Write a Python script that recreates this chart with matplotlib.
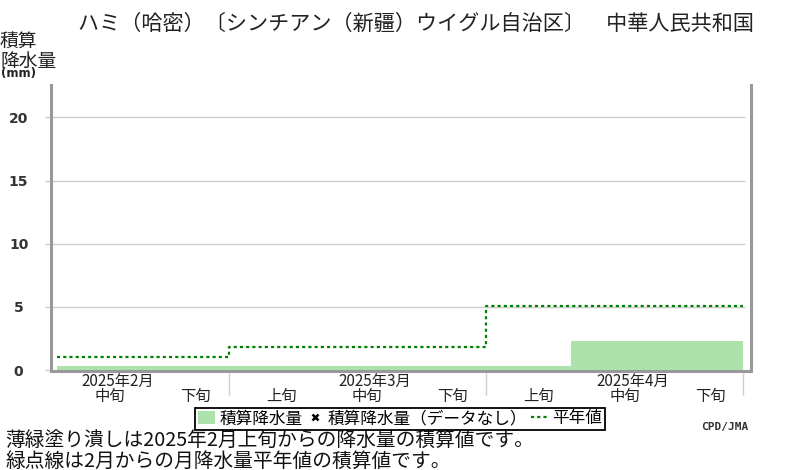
import matplotlib
matplotlib.use("Agg")
import matplotlib.pyplot as plt
from matplotlib.patches import Patch
from matplotlib.lines import Line2D

plt.rcParams['font.family'] = ['Noto Sans CJK JP', 'DejaVu Sans']

# ---- data ----
title = "ハミ（哈密）〔シンチアン（新疆）ウイグル自治区〕　中華人民共和国"
dekad_labels = ['中旬', '下旬', '上旬', '中旬', '下旬', '上旬', '中旬', '下旬']
month_labels = ['2025年2月', '2025年3月', '2025年4月']
month_label_idx = [0, 3, 6]          # dekad index under which the month label sits
month_bounds = [0, 2, 5, 8]          # dekad boundaries of the months
precip_cum = [0.3, 0.3, 0.3, 0.3, 0.3, 0.3, 2.3, 2.3]   # cumulative precipitation (mm)
normal_cum = [1.0, 1.85, 5.1]        # cumulative monthly normal (mm)
yticks = [0, 5, 10, 15, 20]

W, H = 800, 470
fig = plt.figure(figsize=(W / 100, H / 100), dpi=100)

ax_l, ax_r, ax_b, ax_t = 51, 750.5, 371, 85
ax = fig.add_axes([ax_l / W, 1 - ax_b / H, (ax_r - ax_l) / W, (ax_b - ax_t) / H])

px_per_dekad = 85.7
px_per_mm = 12.63
ax.set_xlim(-6 / px_per_dekad, 8 + 7.5 / px_per_dekad)
ax.set_ylim(-1 / px_per_mm, (370 - ax_t) / px_per_mm)

# bars
ax.bar(range(len(precip_cum)), precip_cum, width=1.0, align='edge',
       color='#ade3ab', linewidth=0, zorder=2)

# normal step line
xs, ys = [], []
for i, v in enumerate(normal_cum):
    xs += [month_bounds[i], month_bounds[i + 1]]
    ys += [v, v]
ax.plot(xs, ys, color='#008000', lw=1.6, linestyle=(0, (1.4, 1.4)), zorder=3)

# grid lines
for t in yticks[1:]:
    ax.hlines(t, ax.get_xlim()[0], 8 + 2 / px_per_dekad, color='#cccccc', lw=1, zorder=1)

# spines
for s in ['left', 'right', 'bottom']:
    ax.spines[s].set_color('#999999')
    ax.spines[s].set_linewidth(2.2)
    ax.spines[s].set_zorder(4)
ax.spines['top'].set_visible(False)

ax.set_yticks(yticks)
ax.set_yticklabels([str(t) for t in yticks])
ax.tick_params(axis='y', length=4.3, width=1, color='#cccccc', pad=19,
               labelsize=10, labelcolor='#333333')
for lab in ax.get_yticklabels():
    lab.set_ha('center')
    lab.set_fontweight('bold')
    lab.set_family('DejaVu Sans')
ax.set_xticks([])

# month separators below axis
ax.vlines(month_bounds[1:], -24 / (ax_b - ax_t), -2 / (ax_b - ax_t),
          transform=ax.get_xaxis_transform(), color='#cccccc', lw=1, clip_on=False)

# dekad labels
for i, lab in enumerate(dekad_labels):
    ax.annotate(lab, xy=(i + 0.5, 0), xycoords=('data', 'axes fraction'),
                xytext=(7.2, -18.5), textcoords='offset points',
                ha='center', va='center', fontsize=11, color='#222222')
for idx, lab in zip(month_label_idx, month_labels):
    ax.annotate(lab, xy=(idx + 0.5, 0), xycoords=('data', 'axes fraction'),
                xytext=(13, -7.5), textcoords='offset points',
                ha='center', va='center', fontsize=11, color='#222222')

# title
fig.text(416 / W, 1 - 24 / H, title, ha='center', va='center', fontsize=15.2, color='#222222')

# y label
fig.text(0 / W, 1 - 31 / H, "積算\n降水量", ha='left', va='top', fontsize=13.5,
         linespacing=0.95, color='#222222')
fig.text(1 / W, 1 - 74 / H, "(mm)", ha='left', va='center', fontsize=8.5,
         fontweight='bold', color='#222222', family='DejaVu Sans')

# legend
handles = [
    Patch(facecolor='#ade3ab', edgecolor='none'),
    Line2D([], [], marker='x', color='black', linestyle='none', markersize=4.5, mew=1.8),
    Line2D([], [], color='#008000', lw=1.6, linestyle=(0, (1.4, 1.4))),
]
labels = ['積算降水量', '積算降水量（データなし）', '平年値']
leg = fig.legend(handles, labels, loc='center', bbox_to_anchor=(400 / W, 1 - 419 / H),
                 ncol=3, fontsize=12, frameon=True, fancybox=False, framealpha=1,
                 edgecolor='black', borderpad=0.15, handlelength=1.05, handleheight=0.8,
                 handletextpad=0.25, columnspacing=0.2, borderaxespad=0)
leg.get_frame().set_linewidth(1.3)

fig.text(748 / W, 1 - 427 / H, "CPD/JMA", ha='right', va='center', fontsize=8,
         fontweight='bold', color='#333333', family='DejaVu Sans Mono')

# footer notes
fig.text(5 / W, 1 - 441 / H, "薄緑塗り潰しは2025年2月上旬からの降水量の積算値です。",
         ha='left', va='center', fontsize=14.2, color='#111111')
fig.text(5 / W, 1 - 461 / H, "緑点線は2月からの月降水量平年値の積算値です。",
         ha='left', va='center', fontsize=14.2, color='#111111')

fig.savefig("out.png", dpi=100)
